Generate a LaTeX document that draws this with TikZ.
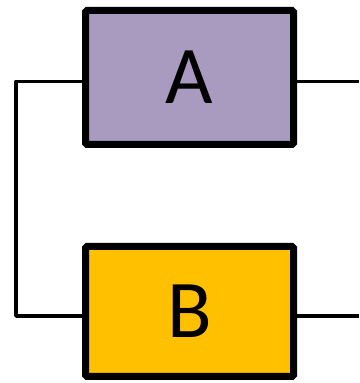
\documentclass[tikz,border=0pt]{standalone}
\usepackage{fontspec}
\setmainfont{Carlito}
\usepackage{tikz}
\usetikzlibrary{positioning}

\definecolor{lavender}{RGB}{169,155,192}
\definecolor{amber}{RGB}{255,192,0}

\begin{document}
\begin{tikzpicture}[x=1pt, y=1pt, font=\fontsize{82}{82}\selectfont]
		\useasboundingbox (0,0) rectangle (359,383);
%		\draw (0,0) rectangle (359,383);
		\node[] (a) at (189.5, 305.5) [draw, line width=7pt, fill=lavender, rounded corners=1.5pt, minimum width=208pt, minimum height=134pt] {A};
		\node[below=95pt of a] (b) [draw, line width=7pt, fill=amber, rounded corners=1.5pt, minimum width=208pt, minimum height=130pt] {B};
		\coordinate (a out) at ([yshift=-4pt]a.east -| 359, 0);
		\coordinate (b out) at ([yshift=-4.5pt]b.east -| 359, 0);
		\coordinate (split) at ([yshift=-4pt]a.west -| 16, 0);
		
		\draw[line width=3.5pt, line join=round] ([yshift=-4pt]a.west) -- (split) |- ([yshift=-4.5pt]b.west);
		\draw[line width=3.5pt] ([yshift=-4pt]a.east) -- (a out);
		\draw[line width=3.5pt] ([yshift=-4.5pt]b.east) -- (b out);
	\end{tikzpicture}
\end{document}
